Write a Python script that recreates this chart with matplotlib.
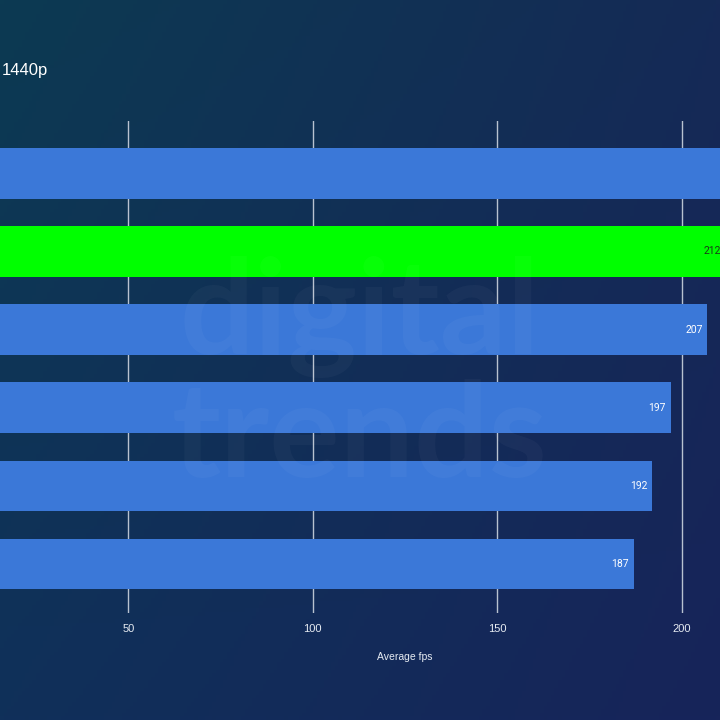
import matplotlib
matplotlib.use("Agg")
import matplotlib.pyplot as plt
import numpy as np
from matplotlib.colors import to_rgb

# Data
categories = ["GPU A", "GPU B", "GPU C", "GPU D", "GPU E", "GPU F"]
values = [225, 212, 207, 197, 192, 187]
bar_colors = ["#3b78d8", "#00ff00", "#3b78d8", "#3b78d8", "#3b78d8", "#3b78d8"]
label_colors = ["white", "#1a3a1a", "white", "white", "white", "white"]
xticks = [0, 50, 100, 150, 200, 250]
xtick_labels = ["", "50", "100", "150", "200", ""]
title = "1440p"
xlabel = "Average fps"

W, H = 720, 720
fig = plt.figure(figsize=(W / 100, H / 100), dpi=100)

# Background gradient
tl, tr = np.array(to_rgb("#0c3a52")), np.array(to_rgb("#152a56"))
bl, br = np.array(to_rgb("#10305a")), np.array(to_rgb("#17245a"))
u = np.linspace(0, 1, 200)[None, :, None]
v = np.linspace(0, 1, 200)[:, None, None]
img = (1 - v) * ((1 - u) * tl + u * tr) + v * ((1 - u) * bl + u * br)
bg = fig.add_axes([0, 0, 1, 1], zorder=-10)
bg.imshow(img, aspect="auto", extent=[0, 1, 0, 1], origin="upper")
bg.axis("off")

# Watermark
fig.text(0.50, 0.56, "digital", fontsize=95, fontweight="bold", color="white",
         alpha=0.03, ha="center", va="center", family="Lato")
fig.text(0.50, 0.39, "trends", fontsize=95, fontweight="bold", color="white",
         alpha=0.03, ha="center", va="center", family="Lato")

# Main axes (extends beyond figure on both sides)
left_px, right_px = -56, 866
top_px, bot_px = 121, 613
ax = fig.add_axes([left_px / W, 1 - bot_px / H, (right_px - left_px) / W, (bot_px - top_px) / H])
ax.patch.set_alpha(0)
ypos = np.arange(len(categories))
ax.barh(ypos, values, height=0.645, color=bar_colors, zorder=3)
ax.set_xlim(0, 250)
ax.set_ylim(5.63, -0.67)
ax.set_xticks(xticks)
ax.set_xticklabels(xtick_labels, color="#e6ebf2", fontsize=8, family="Liberation Sans")
ax.tick_params(axis="x", length=0, pad=8)
ax.set_yticks([])
ax.grid(axis="x", color="#b8c2d0", linewidth=1, zorder=1)
for s in ax.spines.values():
    s.set_visible(False)
ax.set_xlabel(xlabel, color="#e6ebf2", fontsize=7.5, family="Liberation Sans", labelpad=13)

# value labels (only those that fall inside the visible figure area)
visible_max = 250 * (W - left_px) / (right_px - left_px)
for y, val, lc in zip(ypos, values, label_colors):
    if val - 6 > visible_max:
        continue
    ax.text(val - 1.2, y, str(val), ha="right", va="center", color=lc, fontsize=7.5,
            family="Roboto", zorder=4)

fig.text(2 / W, 1 - 71 / H, title, fontsize=12, color="white", ha="left", va="center",
         family="Liberation Sans")

fig.savefig("out.png", dpi=100)
